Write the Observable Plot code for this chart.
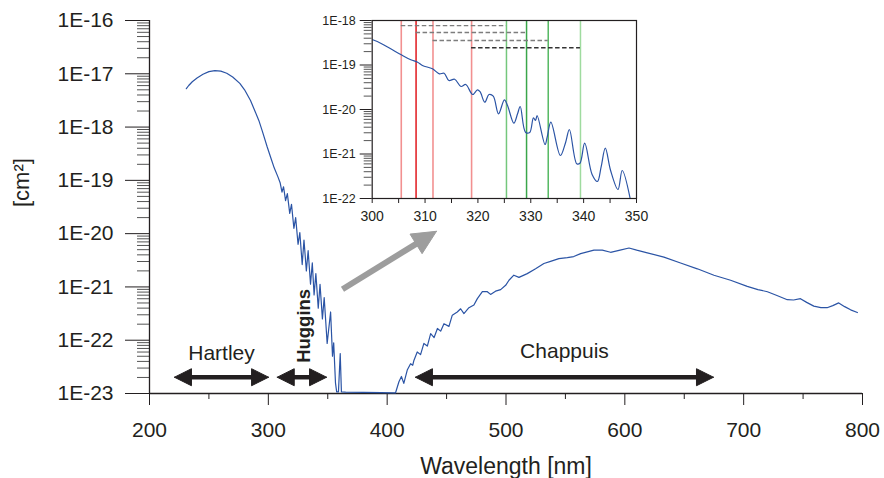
<!DOCTYPE html>
<html><head><meta charset="utf-8">
<script src="https://cdn.jsdelivr.net/npm/d3@7"></script>
<script src="https://cdn.jsdelivr.net/npm/@observablehq/plot@0.6"></script>
<style>
html,body{margin:0;padding:0;background:#fff;}
#wrap{position:relative;width:884px;height:478px;overflow:hidden;background:#fff;}
#wrap svg{position:absolute;}
</style></head><body><div id="wrap"></div>
<script>
// ---------- main spectrum (wavelength nm, log10 cross-section cm2) ----------
const mainWl = [231,233,236,240,245,250,255,260,265,270,276,280,285,288,292,295,299,302,305,308,
310,311.5,312.8,314.5,316,318,319.5,321.5,323,325,326.5,328.5,330,332,333.5,335.5,337,338.5,340,342,343.5,345.5,347,349.5,352.4,354,355,356.5,357.5,359,360.5,361.5,
365,380,395,405,407,
409.9,412,414,416.9,419.7,421.5,422.5,425.3,428.1,430.9,433.8,436.6,439.5,442.3,445,447.8,452,454.8,459,461.8,464.6,468.8,473,475.9,480.1,484.3,487,491.2,495.5,499.7,502.5,506.6,510.9,517.9,524.9,531.9,537.5,544.5,551.6,557,562.8,574,581,588,596,603.5,610,618.9,632.9,646.9,661,675,689,703,712,720,728,736.7,742,747.8,753,759,765,770.2,775,780,785,790,795.7];
const mainLog10 = [-17.28,-17.22,-17.15,-17.08,-17.01,-16.96,-16.94,-16.95,-16.99,-17.06,-17.18,-17.30,-17.50,-17.66,-17.875,-18.08,-18.37,-18.57,-18.77,-18.93,
-19.05,-19.22,-19.12,-19.38,-19.25,-19.62,-19.45,-19.9,-19.7,-20.2,-19.98,-20.58,-20.12,-20.7,-20.32,-20.95,-20.55,-21.15,-20.75,-21.4,-20.95,-21.6,-21.2,-22.06,-21.47,-22.3,-22.05,-22.8,-22.97,-22.97,-22.25,-22.97,
-22.975,-22.98,-22.985,-22.99,-22.99,
-22.78,-22.68,-22.81,-22.56,-22.44,-22.47,-22.38,-22.22,-22.27,-22.06,-22.11,-21.875,-21.95,-21.78,-21.83,-21.69,-21.74,-21.53,-21.47,-21.41,-21.50,-21.39,-21.34,-21.22,-21.09,-21.09,-21.14,-21.08,-21.05,-20.97,-20.875,-20.78,-20.82,-20.75,-20.66,-20.56,-20.52,-20.47,-20.45,-20.43,-20.375,-20.31,-20.31,-20.35,-20.31,-20.27,-20.31,-20.36,-20.44,-20.55,-20.66,-20.78,-20.875,-20.99,-21.05,-21.09,-21.16,-21.24,-21.245,-21.22,-21.29,-21.36,-21.39,-21.39,-21.35,-21.30,-21.37,-21.43,-21.48];

// ---------- inset spectrum ----------
const insetWl = [300.1,301.6,303.5,305.5,307.3,308.6,309.5,311.4,312.7,313.6,314.5,315.6,316.8,317.7,319,319.9,320.4,321.3,322.1,322.9,323.9,325,325.6,326.8,327.5,328,329,329.8,330.5,330.9,331.2,332.7,333.1,333.8,335.6,336.6,337.3,338.7,339.3,340.2,341.6,342.6,343.3,344.1,345.1,346.5,347.3,348.8];
const insetLog10 = [-18.434,-18.51,-18.636,-18.771,-18.883,-18.937,-19.011,-19.085,-19.198,-19.184,-19.348,-19.319,-19.483,-19.438,-19.663,-19.56,-19.6,-19.836,-19.663,-19.701,-20.097,-19.782,-19.91,-20.308,-20.097,-19.933,-20.51,-20.517,-20.187,-20.247,-20.135,-20.787,-20.622,-20.285,-21.034,-20.735,-20.449,-21.22,-21.207,-20.757,-21.461,-21.618,-21.297,-20.87,-21.371,-21.798,-21.371,-22.0];

// inset marker lines
const redLines = [305.5, 308.3, 311.5, 318.8];
const redColors = ["#f29090", "#e3262b", "#f29090", "#f29090"];
const greenLines = [325.4, 329.2, 333.3, 339.4];
const greenColors = ["#74c77c", "#3aa64a", "#55b962", "#9fdb9f"];
const dashLevels = [7.7e-19, 5.37e-19, 3.55e-19, 2.44e-19];
const dashColors = ["#7d7d7d", "#7d7d7d", "#7d7d7d", "#333333"];

// ---------- axes ----------
const xMajor = [200,300,400,500,600,700,800];
const xMinor = [250,350,450,550,650,750];
const yMajorValues = [1e-16,1e-17,1e-18,1e-19,1e-20,1e-21,1e-22,1e-23];
const yMajorLabels = ["1E-16","1E-17","1E-18","1E-19","1E-20","1E-21","1E-22","1E-23"];
const mantissas = [2,3,4,5,6,7,8,9];
const insetXMajor = [300,310,320,330,340,350];
const insetXMinor = [305,315,325,335,345];
const insetYValues = [1e-18,1e-19,1e-20,1e-21,1e-22];
const insetYLabels = ["1E-18","1E-19","1E-20","1E-21","1E-22"];

// ---------- annotations ----------
const bandNames = ["Hartley", "Huggins", "Chappuis"];
const bandStart = [221, 307.5, 423.8];
const bandEnd = [300.2, 349, 674.6];
const bandArrowLevel = 2.02e-23;
const bandLabelX = [260.6, 330.4, 549.2];
const bandLabelY = [5.75e-23, 1.86e-22, 6.22e-23];
const grayArrowFrom = [362.4, 9.04e-22];
const grayArrowTo = [441.5, 1.107e-20];

// ---------- build ----------
const mainData = mainWl.map((w, i) => ({w, s: 10 ** mainLog10[i]}));
const insetData = insetWl.map((w, i) => ({w, s: 10 ** insetLog10[i]}));
const yMinor = [];
for (const d of yMajorValues.slice(1)) for (const m of mantissas) yMinor.push(m * d);
const insetYMinor = [];
for (const d of insetYValues.slice(1)) for (const m of mantissas) insetYMinor.push(m * d);

const W = 884, H = 478, M = {l: 149, r: 22, t: 20, b: 85};
const kx = (W - M.l - M.r) / 600, ky = (H - M.t - M.b) / 7;
const toPx = (x, v) => [M.l + (x - 200) * kx, M.t + (-16 - Math.log10(v)) * ky];
const fromPx = (a, b) => ({x: 200 + (a - M.l) / kx, y: 10 ** (-16 - (b - M.t) / ky)});
function tri(tip, dx, dy, len, hw, id) {
  const n = Math.hypot(dx, dy), ux = dx / n, uy = dy / n;
  const bx = tip[0] - ux * len, by = tip[1] - uy * len, px = -uy, py = ux;
  return [[tip[0], tip[1]], [bx + px * hw, by + py * hw], [bx - px * hw, by - py * hw], [tip[0], tip[1]]]
    .map(([a, b]) => ({...fromPx(a, b), id}));
}
const HL = 17, HW = 8.5;
const blackHeads = [], shafts = [];
bandNames.forEach((n, i) => {
  const s = toPx(bandStart[i], bandArrowLevel), e = toPx(bandEnd[i], bandArrowLevel);
  blackHeads.push(...tri(s, -1, 0, HL, HW, n + "L"), ...tri(e, 1, 0, HL, HW, n + "R"));
  const a = fromPx(s[0] + HL - 1, s[1]), b = fromPx(e[0] - HL + 1, e[1]);
  shafts.push({x1: a.x, y1: a.y, x2: b.x, y2: b.y});
});
const gt = toPx(grayArrowTo[0], grayArrowTo[1]), gf = toPx(grayArrowFrom[0], grayArrowFrom[1]);
const gdx = gt[0] - gf[0], gdy = gt[1] - gf[1], gn = Math.hypot(gdx, gdy);
const GL = 24, GW = 11.5;
const grayHead = tri(gt, gdx, gdy, GL, GW, "g");
const gb = fromPx(gt[0] - gdx / gn * (GL - 2), gt[1] - gdy / gn * (GL - 2));
const grayShaft = [{x1: grayArrowFrom[0], y1: grayArrowFrom[1], x2: gb.x, y2: gb.y}];
const labels = bandNames.map((n, i) => ({x: bandLabelX[i], y: bandLabelY[i], text: n}));

const FONT = "'Liberation Sans', Arial, Helvetica, sans-serif";
const INK = "#231f20";
const BLUE = "#2b54a5";

const main = Plot.plot({
  width: W, height: H, marginLeft: M.l, marginRight: M.r, marginTop: M.t, marginBottom: M.b,
  style: {background: "none", fontFamily: FONT, color: INK, overflow: "visible"},
  x: {domain: [200, 800]},
  y: {type: "log", domain: [1e-23, 1e-16]},
  marks: [
    Plot.axisY(yMinor, {tickSize: 12, tickFormat: () => "", stroke: "#555", label: null}),
    Plot.axisY(yMajorValues, {tickSize: 24, tickPadding: 12, fontSize: 21, color: INK,
      tickFormat: d => yMajorLabels[yMajorValues.indexOf(d)], label: null}),
    Plot.axisX(xMinor, {tickSize: 6, tickFormat: () => "", color: INK, label: null}),
    Plot.axisX(xMajor, {tickSize: 12, tickPadding: 17, fontSize: 21, color: INK, tickFormat: d => String(d), label: null}),
    Plot.ruleX([200], {stroke: INK, strokeWidth: 1.3}),
    Plot.ruleY([1e-23], {stroke: INK, strokeWidth: 1.3}),
    Plot.line(mainData, {x: "w", y: "s", stroke: BLUE, strokeWidth: 1.2}),
    Plot.link(shafts, {x1: "x1", y1: "y1", x2: "x2", y2: "y2", stroke: INK, strokeWidth: 4.5}),
    Plot.line(blackHeads, {x: "x", y: "y", z: "id", fill: INK, stroke: INK, strokeWidth: 1}),
    Plot.link(grayShaft, {x1: "x1", y1: "y1", x2: "x2", y2: "y2", stroke: "#9d9d9d", strokeWidth: 6}),
    Plot.line(grayHead, {x: "x", y: "y", z: "id", fill: "#9d9d9d", stroke: "#9d9d9d", strokeWidth: 1}),
    Plot.text(labels.filter(d => d.text !== "Huggins"), {x: "x", y: "y", text: "text", fontSize: 21, fill: INK}),
    Plot.text(labels.filter(d => d.text === "Huggins"), {x: "x", y: "y", text: "text", fontSize: 18.5, fontWeight: "bold", rotate: -90, fill: INK}),
    Plot.text(["Wavelength [nm]"], {text: d => d, frameAnchor: "bottom", dy: 80, fontSize: 23, fill: INK}),
    Plot.text(["[cm²]"], {text: d => d, frameAnchor: "left", dx: -128, rotate: -90, fontSize: 22, fill: INK})
  ]
});
main.style.left = "0px"; main.style.top = "0px";

const inset = Plot.plot({
  width: 350, height: 225, marginLeft: 71.7, marginRight: 14, marginTop: 20, marginBottom: 27,
  style: {background: "none", fontFamily: FONT, color: INK, overflow: "visible"},
  x: {domain: [300, 350]},
  y: {type: "log", domain: [1e-22, 1e-18]},
  marks: [
    Plot.ruleX(redLines.map((x, i) => ({x, c: redColors[i]})), {x: "x", stroke: "c", strokeWidth: 1.6}),
    Plot.ruleX(greenLines.map((x, i) => ({x, c: greenColors[i]})), {x: "x", stroke: "c", strokeWidth: 1.5}),
    Plot.ruleY(dashLevels.map((y, i) => ({y, x1: redLines[i], x2: greenLines[i], c: dashColors[i]})),
      {y: "y", x1: "x1", x2: "x2", stroke: "c", strokeWidth: 1.3, strokeDasharray: "4.5,2.5"}),
    Plot.line(insetData, {x: "w", y: "s", stroke: BLUE, strokeWidth: 1.2, curve: "catmull-rom", clip: true}),
    Plot.frame({stroke: INK, strokeWidth: 1.2}),
    Plot.axisY(insetYMinor, {tickSize: 8, tickFormat: () => "", stroke: "#555", label: null}),
    Plot.axisY(insetYValues, {tickSize: 12, tickPadding: 4.5, fontSize: 12.5, color: INK,
      tickFormat: d => insetYLabels[insetYValues.indexOf(d)], label: null}),
    Plot.axisX(insetXMinor, {tickSize: 5, tickFormat: () => "", color: INK, label: null}),
    Plot.axisX(insetXMajor, {tickSize: 5, tickPadding: 8, fontSize: 14, color: INK, tickFormat: d => String(d), label: null})
  ]
});
inset.style.left = "300px"; inset.style.top = "0px";

const wrap = document.getElementById("wrap");
wrap.appendChild(main);
wrap.appendChild(inset);
</script>
</body></html>
